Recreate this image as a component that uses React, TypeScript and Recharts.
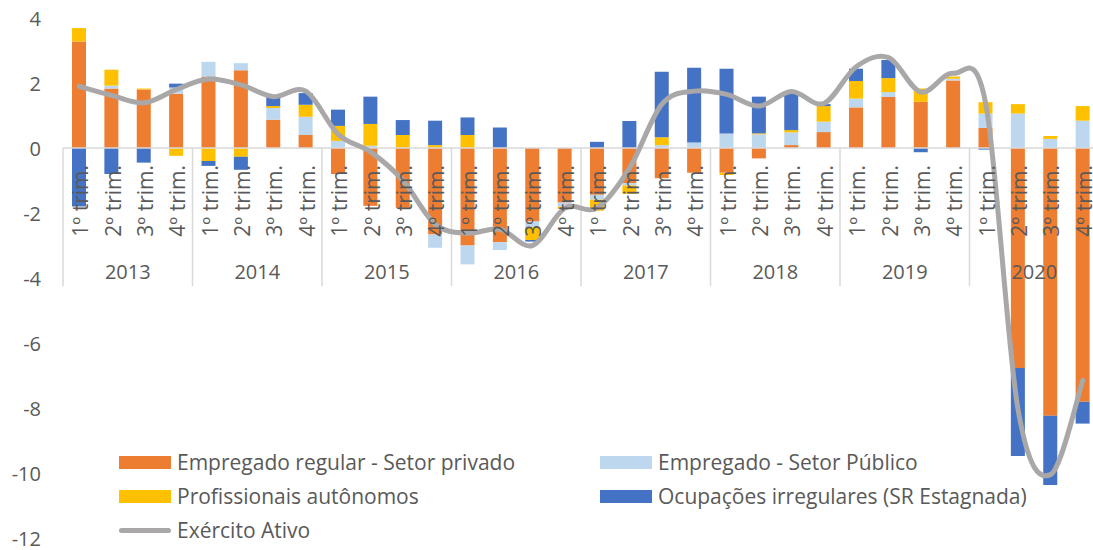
import React from "react";
import {
  ComposedChart,
  Bar,
  Line,
  XAxis,
  YAxis,
  ReferenceLine,
  ReferenceDot,
} from "recharts";

// ---------- data ----------
const years = ["2013", "2014", "2015", "2016", "2017", "2018", "2019", "2020"];
const quarters = ["1º trim.", "2º trim.", "3º trim.", "4º trim."];

const privado = [
  3.28, 1.83, 1.8, 1.67,
  2.2, 2.39, 0.87, 0.4,
  -0.8, -1.78, -1.84, -2.66,
  -3.0, -2.9, -2.26, -1.68,
  -1.44, -1.08, -0.93, -0.76,
  -0.76, -0.32, 0.09, 0.49,
  1.25, 1.57, 1.42, 2.08,
  0.62, -6.77, -8.24, -7.81,
];
const publico = [
  0, 0.09, 0, 0.19,
  0.45, 0.22, 0.36, 0.56,
  0.22, 0.07, 0, -0.41,
  -0.58, -0.24, -0.17, -0.13,
  -0.15, -0.07, 0.09, 0.17,
  0.45, 0.42, 0.39, 0.32,
  0.27, 0.15, 0, 0.05,
  0.44, 1.06, 0.28, 0.84,
];
const autonomos = [
  0.41, 0.49, 0.03, -0.24,
  -0.4, -0.27, 0.06, 0.37,
  0.46, 0.67, 0.4, 0.09,
  0.4, 0, -0.4, -0.06,
  -0.34, -0.26, 0.24, 0,
  -0.07, 0.03, 0.07, 0.48,
  0.54, 0.43, 0.41, 0.07,
  0.35, 0.29, 0.09, 0.45,
];
const irregulares = [
  -1.8, -0.8, -0.45, 0.12,
  -0.15, -0.4, 0.33, 0.36,
  0.5, 0.84, 0.46, 0.75,
  0.54, 0.63, -0.05, 0,
  0.19, 0.83, 2.02, 2.3,
  1.99, 1.13, 1.17, 0.06,
  0.38, 0.56, -0.13, 0,
  -0.05, -2.71, -2.13, -0.67,
];
const exercitoAtivo = [
  1.9, 1.62, 1.39, 1.8,
  2.12, 1.94, 1.58, 1.75,
  0.42, -0.12, -1.0, -2.35,
  -2.62, -2.5, -3.0, -1.85,
  -1.84, -0.62, 1.35, 1.75,
  1.65, 1.29, 1.74, 1.37,
  2.5, 2.78, 1.72, 2.3,
  1.37, -8.05, -10.05, -7.15,
];
const yTicks = [-12, -10, -8, -6, -4, -2, 0, 2, 4];

const barSeries = [
  { key: "privado", name: "Empregado regular - Setor privado", color: "#ED7D31", values: privado },
  { key: "publico", name: "Empregado - Setor Público", color: "#BDD7EE", values: publico },
  { key: "autonomos", name: "Profissionais autônomos", color: "#FFC000", values: autonomos },
  { key: "irregulares", name: "Ocupações irregulares (SR Estagnada)", color: "#4472C4", values: irregulares },
];
const lineSeries = { key: "ativo", name: "Exército Ativo", color: "#A9A7A7" };

const data = privado.map((_, i) => ({
  x: i + 0.5,
  year: years[Math.floor(i / 4)],
  quarter: quarters[i % 4],
  privado: privado[i],
  publico: publico[i],
  autonomos: autonomos[i],
  irregulares: irregulares[i],
  ativo: exercitoAtivo[i],
}));

// Excel-like smoothing (Catmull-Rom as cubic Bezier)
function excelSmooth(context: any) {
  let pts: number[][] = [];
  return {
    areaStart() {},
    areaEnd() {},
    lineStart() {
      pts = [];
    },
    point(x: number, y: number) {
      pts.push([+x, +y]);
    },
    lineEnd() {
      const n = pts.length;
      if (!n) return;
      context.moveTo(pts[0][0], pts[0][1]);
      for (let i = 0; i < n - 1; i++) {
        const p0 = pts[i - 1] || pts[i];
        const p1 = pts[i];
        const p2 = pts[i + 1];
        const p3 = pts[i + 2] || pts[i + 1];
        context.bezierCurveTo(
          p1[0] + (p2[0] - p0[0]) / 6,
          p1[1] + (p2[1] - p0[1]) / 6,
          p2[0] - (p3[0] - p1[0]) / 6,
          p2[1] - (p3[1] - p1[1]) / 6,
          p2[0],
          p2[1]
        );
      }
    },
  };
}

const FONT = "'Open Sans', 'Noto Sans', sans-serif";
const TEXT = "#595959";
const GRIDC = "#D9D9D9";

const YTick = (props: any) => {
  const { x, y, payload } = props;
  return (
    <text x={x} y={y} textAnchor="end" dominantBaseline="central" fill={TEXT} fontSize={20} fontFamily={FONT}>
      {payload.value}
    </text>
  );
};

const QuarterLabel = (label: string) => (props: any) => {
  const { cx, cy } = props;
  const yy = cy + 17;
  return (
    <text
      x={cx + 1}
      y={yy}
      transform={`rotate(-90 ${cx + 1} ${yy})`}
      textAnchor="end"
      dominantBaseline="central"
      fill={TEXT}
      fontSize={21}
      fontFamily={FONT}
    >
      {label}
    </text>
  );
};

const YearLabel = (label: string) => (props: any) => {
  const { cx, cy } = props;
  return (
    <text x={cx} y={cy} textAnchor="middle" dominantBaseline="central" fill={TEXT} fontSize={20} fontFamily={FONT}>
      {label}
    </text>
  );
};

const Legend = () => {
  const rowH = 34;
  const items = [
    { ...barSeries[0], col: 0, row: 0 },
    { ...barSeries[1], col: 1, row: 0 },
    { ...barSeries[2], col: 0, row: 1 },
    { ...barSeries[3], col: 1, row: 1 },
  ];
  const colX = [119, 600];
  return (
    <div style={{ position: "absolute", left: 0, top: 0, width: 1093, height: 550, pointerEvents: "none", fontFamily: FONT, color: TEXT, fontSize: 21 }}>
      {items.map((it) => (
        <div key={it.key} style={{ position: "absolute", left: colX[it.col], top: 462 - 15 + it.row * rowH, height: 30, display: "flex", alignItems: "center", whiteSpace: "nowrap" }}>
          <span style={{ display: "inline-block", width: 52, height: 13, background: it.color, marginRight: 6 }} />
          <span>{it.name}</span>
        </div>
      ))}
      <div style={{ position: "absolute", left: colX[0], top: 462 - 15 + 2 * rowH, height: 30, display: "flex", alignItems: "center", whiteSpace: "nowrap" }}>
        <span style={{ display: "inline-block", width: 52, height: 5, borderRadius: 3, background: lineSeries.color, marginRight: 6 }} />
        <span>{lineSeries.name}</span>
      </div>
    </div>
  );
};

export default function App() {
  return (
    <div style={{ position: "absolute", left: 0, top: 0, width: 1093, height: 550, overflow: "hidden", background: "#fff" }}>
      <ComposedChart
        width={1100}
        height={550}
        data={data}
        stackOffset="sign"
        margin={{ top: 18, right: 1, left: 0, bottom: 12 }}
      >
        <XAxis dataKey="x" type="number" domain={[0, 32]} hide />
        <YAxis
          type="number"
          domain={[-12, 4]}
          ticks={yTicks}
          width={63}
          axisLine={false}
          tickLine={false}
          tickSize={0}
          tickMargin={22}
          tick={<YTick />}
          interval={0}
        />
        <ReferenceLine y={0} stroke={GRIDC} strokeWidth={1.5} />
        {years.map((_, k) => (
          <ReferenceLine
            key={"sep" + k}
            segment={[
              { x: k * 4, y: 0 },
              { x: k * 4, y: -4.25 },
            ]}
            stroke={GRIDC}
            strokeWidth={1.5}
          />
        ))}
        {barSeries.map((s) => (
          <Bar key={s.key} dataKey={s.key} name={s.name} stackId="a" fill={s.color} barSize={14} isAnimationActive={false} />
        ))}
        {data.map((d, i) => (
          <ReferenceDot key={"q" + i} x={d.x} y={0} r={0} shape={QuarterLabel(d.quarter)} />
        ))}
        {years.map((yr, k) => (
          <ReferenceDot key={"y" + k} x={k * 4 + 2} y={-3.785} r={0} shape={YearLabel(yr)} />
        ))}
        <Line
          dataKey="ativo"
          name={lineSeries.name}
          type={excelSmooth as any}
          stroke={lineSeries.color}
          strokeWidth={5}
          strokeLinecap="round"
          dot={false}
          isAnimationActive={false}
        />
      </ComposedChart>
      <Legend />
    </div>
  );
}
